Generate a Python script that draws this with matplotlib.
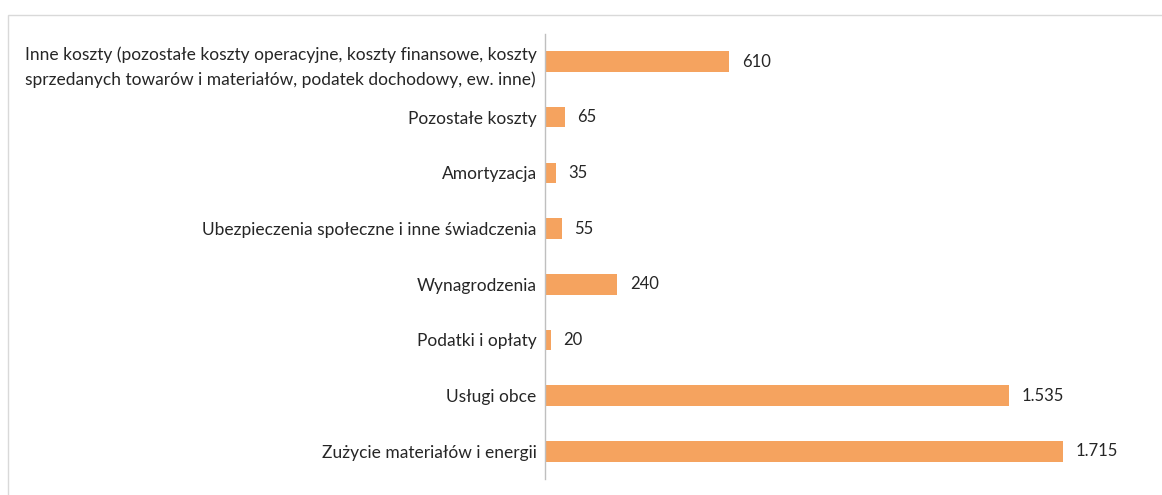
import matplotlib
matplotlib.use("Agg")
from matplotlib import pyplot as plt

# Categories from top to bottom, as in the picture
categories = [
    "Inne koszty (pozostałe koszty operacyjne, koszty finansowe, koszty\n"
    "sprzedanych towarów i materiałów, podatek dochodowy, ew. inne)",
    "Pozostałe koszty",
    "Amortyzacja",
    "Ubezpieczenia społeczne i inne świadczenia",
    "Wynagrodzenia",
    "Podatki i opłaty",
    "Usługi obce",
    "Zużycie materiałów i energii",
]
values = [610, 65, 35, 55, 240, 20, 1535, 1715]

BAR_COLOR = "#F5A35F"
TEXT_COLOR = "#262626"


def fmt_value(v):
    """Polish-style thousands separator with a dot."""
    return "{:,}".format(v).replace(",", ".")


plt.rcParams["font.family"] = ["Lato", "DejaVu Sans"]

fig = plt.figure(figsize=(11.62, 4.95), dpi=100)
ax = fig.add_axes([0.469, 0.032, 0.52, 0.90])

pos = list(range(len(categories)))
ax.barh(pos, values, height=0.37, color=BAR_COLOR)
ax.set_ylim(len(categories) - 0.5, -0.5)
ax.set_xlim(0, 2000)

ax.set_yticks(pos)
ax.set_yticklabels(categories, fontsize=12.5, color=TEXT_COLOR,
                   multialignment="center", linespacing=1.6)
ax.tick_params(axis="y", length=0, pad=6)
ax.set_xticks([])

for p, v in zip(pos, values):
    ax.annotate(fmt_value(v), (v, p), xytext=(9, 0),
                textcoords="offset points", va="center", ha="left",
                fontsize=12, color=TEXT_COLOR)

for side in ("top", "right", "bottom"):
    ax.spines[side].set_visible(False)
ax.spines["left"].set_color("#BFBFBF")
ax.spines["left"].set_linewidth(1.0)

# light frame around the chart area (runs off the right and bottom edges)
frame = plt.Rectangle((0.007, -0.05), 1.1, 1.02, transform=fig.transFigure,
                      fill=False, edgecolor="#D9D9D9", linewidth=1.0)
fig.patches.append(frame)

fig.savefig("out.png", dpi=100, facecolor="white")
